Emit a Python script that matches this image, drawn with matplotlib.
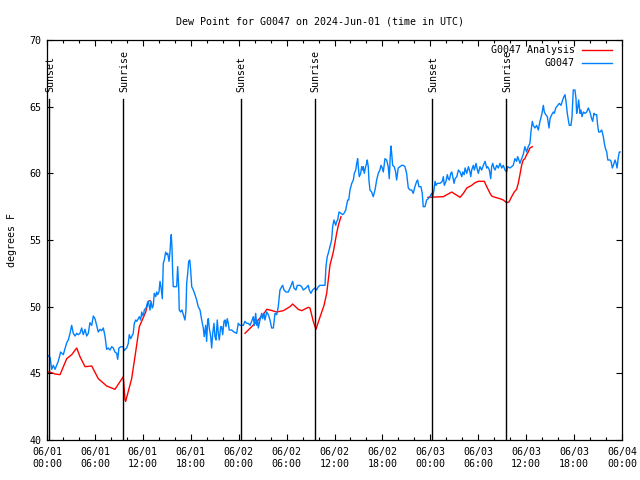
import numpy as np
import matplotlib
matplotlib.use('Agg')
import matplotlib.pyplot as plt

# hours since 06/01 00:00 UTC, dew point in deg F
obs_hours = [0.0, 0.38, 0.59, 0.79, 1.0, 1.41, 1.71, 2.04, 2.47, 2.67, 2.88, 3.09, 3.29, 3.51, 3.72, 3.92,
             4.13, 4.34, 4.54, 4.76, 4.97, 5.17, 5.38, 5.60, 5.80, 6.01, 6.22, 6.42, 6.64, 6.85, 7.05, 7.26,
             7.47, 7.67, 7.89, 8.10, 8.30, 8.51, 8.73, 8.85, 9.01, 9.26, 9.55, 9.64, 9.98, 10.18, 10.30, 10.48,
             10.60, 10.80, 10.93, 11.11, 11.23, 11.43, 11.56, 11.73, 11.86, 12.06, 12.18, 12.40, 12.56, 12.68,
             12.90, 13.02, 13.18, 13.31, 13.43, 13.61, 13.73, 13.86, 14.02, 14.15, 14.27, 14.44, 14.56, 14.69,
             14.86, 14.99, 15.11, 15.28, 15.40, 15.49, 15.56, 15.65, 15.74, 15.81, 16.03, 16.24, 16.36, 16.49,
             16.56, 16.74, 16.90, 17.07, 17.28, 17.40, 17.49, 17.62, 17.74, 17.87, 17.99, 18.12, 18.32, 18.53,
             18.74, 18.94, 19.16, 19.37, 19.57, 19.69, 19.87, 19.99, 20.12, 20.20, 20.32, 20.50, 20.62, 20.75,
             20.91, 21.03, 21.16, 21.32, 21.45, 21.57, 21.75, 21.87, 22.00, 22.16, 22.29, 22.41, 22.57, 22.70,
             22.82, 23.12, 23.41, 23.75, 23.95, 24.16, 24.38, 24.58, 24.79, 25.00, 25.20, 25.42, 25.63, 25.83,
             25.96, 26.13, 26.26, 26.38, 26.46, 26.67, 26.88, 27.00, 27.17, 27.29, 27.51, 27.71, 27.92, 28.13,
             28.34, 28.55, 28.76, 28.96, 29.17, 29.39, 29.51, 29.67, 29.92, 30.21, 30.51, 30.76, 30.92, 31.17,
             31.34, 31.68, 31.89, 32.09, 32.43, 32.72, 32.84, 33.05, 33.26, 33.55, 33.76, 33.97, 34.18, 34.59,
             34.81, 34.93, 35.09, 35.22, 35.43, 35.64, 35.77, 35.93, 36.15, 36.27, 36.40, 36.56, 36.81, 37.02,
             37.19, 37.40, 37.65, 37.78, 37.94, 38.16, 38.36, 38.48, 38.66, 38.78, 38.90, 38.98, 39.10, 39.28,
             39.40, 39.53, 39.60, 39.73, 39.90, 40.03, 40.10, 40.23, 40.31, 40.44, 40.65, 40.85, 41.07, 41.28,
             41.48, 41.69, 41.82, 41.98, 42.11, 42.32, 42.53, 42.73, 42.86, 42.98, 43.07, 43.16, 43.28, 43.48,
             43.66, 43.78, 43.98, 44.20, 44.41, 44.61, 44.82, 45.03, 45.24, 45.45, 45.66, 45.86, 46.07, 46.29,
             46.41, 46.57, 46.82, 46.99, 47.11, 47.33, 47.54, 47.74, 47.95, 48.17, 48.30, 48.46, 48.59, 48.71,
             48.88, 49.21, 49.50, 49.63, 49.75, 49.96, 50.13, 50.25, 50.38, 50.56, 50.68, 50.81, 50.97, 51.10,
             51.31, 51.52, 51.72, 51.94, 52.06, 52.23, 52.35, 52.56, 52.77, 52.97, 53.06, 53.18, 53.38, 53.51,
             53.72, 53.89, 54.01, 54.22, 54.43, 54.64, 54.85, 55.06, 55.18, 55.39, 55.56, 55.68, 55.81, 55.97,
             56.10, 56.31, 56.51, 56.72, 56.93, 57.13, 57.35, 57.56, 57.68, 57.97, 58.18, 58.38, 58.59, 58.80,
             58.93, 59.09, 59.22, 59.43, 59.63, 59.84, 60.06, 60.26, 60.47, 60.60, 60.77, 60.89, 61.10, 61.31,
             61.52, 61.73, 61.95, 62.15, 62.27, 62.45, 62.65, 62.86, 62.99, 63.20, 63.40, 63.53, 63.70, 63.95,
             64.15, 64.36, 64.57, 64.73, 64.86, 64.99, 65.15, 65.28, 65.40, 65.61, 65.74, 65.90, 66.11, 66.24,
             66.32, 66.45, 66.57, 66.74, 66.86, 66.99, 67.16, 67.37, 67.58, 67.78, 67.99, 68.20, 68.33, 68.49,
             68.62, 68.83, 68.95, 69.08, 69.25, 69.46, 69.66, 69.79, 69.91, 70.09, 70.22, 70.50, 70.63, 70.79,
             70.92, 71.13, 71.26, 71.38, 71.55, 71.67, 71.76]
obs_dewpt = [46.4, 46.2, 45.3, 45.6, 45.3, 45.9, 46.6, 46.4, 47.3, 47.5, 48.0, 48.6, 48.0, 47.8, 48.0, 47.9,
             48.0, 48.4, 47.9, 48.3, 47.8, 48.0, 48.8, 48.6, 49.3, 49.1, 48.6, 48.1, 48.3, 48.2, 48.4, 47.8,
             46.8, 46.9, 46.75, 47.0, 46.9, 46.6, 46.5, 46.05, 46.9, 47.0, 47.0, 46.7, 46.9, 47.25, 47.9, 47.6,
             47.75, 48.0, 48.75, 49.0, 48.9, 49.1, 49.25, 49.0, 49.6, 49.25, 49.75, 49.9, 50.25, 50.4,
             49.75, 50.4, 49.9, 50.1, 51.0, 50.75, 51.1, 50.9, 51.1, 51.9, 51.5, 50.6, 53.25, 53.5,
             54.1, 53.9, 54.0, 53.4, 54.1, 55.0, 55.4, 54.4, 52.5, 51.5, 51.5, 51.5, 53.0, 51.5,
             49.75, 49.6, 49.75, 49.4, 49.0, 49.75, 51.75, 52.5, 53.4, 53.5, 52.75, 51.5, 51.25, 50.9,
             50.5, 50.0, 49.75, 49.0, 48.4, 47.75, 48.6, 47.4, 49.0, 49.1, 48.4, 47.75, 46.9, 48.0,
             48.75, 47.75, 47.5, 49.0, 48.0, 47.5, 48.5, 48.5, 47.9, 48.9, 49.0, 48.5, 49.1, 48.75,
             48.25, 48.25, 48.1, 48.0, 48.75, 48.6, 48.6, 48.6, 48.9, 48.75, 48.75, 48.6, 48.9, 49.25,
             48.6, 49.5, 48.6, 49.0, 48.4, 49.0, 49.5, 49.1, 49.5, 49.0, 49.6, 49.4, 49.0, 48.4,
             48.4, 49.5, 49.4, 50.0, 51.25, 51.5, 51.6, 51.25, 51.1, 51.1, 51.5, 51.9, 51.4, 51.25,
             51.6, 51.6, 51.5, 51.25, 51.4, 51.6, 51.25, 51.0, 51.25, 51.4, 51.25, 51.5, 51.6, 51.6,
             51.6, 53.0, 53.75, 54.0, 54.5, 55.0, 56.0, 56.5, 56.1, 56.4, 56.5, 57.1, 57.0, 56.9,
             57.0, 57.25, 58.0, 58.0, 58.75, 59.25, 59.5, 60.0, 60.25, 60.75, 61.1, 60.5, 59.75, 60.0,
             60.5, 60.25, 60.5, 60.0, 60.5, 60.75, 61.0, 60.5, 59.5, 58.75, 58.6, 58.25, 58.75, 59.5,
             60.0, 60.25, 60.6, 60.4, 60.1, 61.1, 61.0, 60.5, 59.6, 61.25, 62.05, 61.5, 60.6, 60.5,
             60.1, 59.5, 60.4, 60.5, 60.6, 60.6, 60.5, 60.0, 58.9, 58.75, 58.75, 58.5, 59.0, 59.4,
             59.5, 59.0, 59.0, 58.5, 57.5, 57.5, 58.0, 58.1, 58.25, 58.5, 58.25, 58.75, 59.4, 59.1,
             59.25, 59.25, 59.4, 59.75, 59.1, 59.4, 59.9, 59.6, 59.5, 60.0, 60.1, 59.75, 59.25, 59.6,
             59.75, 60.25, 60.1, 59.75, 60.1, 59.9, 60.4, 60.0, 60.5, 60.1, 59.75, 60.25, 60.6, 60.25,
             60.75, 60.25, 60.0, 60.5, 60.25, 60.6, 60.9, 60.4, 60.5, 60.25, 59.6, 60.5, 60.75, 60.4,
             60.25, 60.6, 60.4, 60.75, 60.4, 60.6, 60.25, 60.1, 60.5, 60.4, 60.5, 60.6, 61.1, 60.9,
             61.25, 61.0, 60.75, 61.1, 61.4, 62.0, 61.6, 62.0, 62.25, 63.1, 63.9, 63.6, 63.4, 63.6,
             63.25, 63.9, 64.4, 65.1, 64.6, 64.4, 64.25, 63.4, 64.1, 64.4, 64.6, 64.5, 64.9, 65.1,
             65.25, 65.1, 65.5, 65.75, 65.9, 65.4, 64.5, 64.0, 63.6, 63.6, 64.25, 66.25, 66.25, 65.6,
             64.5, 64.9, 65.5, 64.5, 64.75, 64.25, 64.6, 64.5, 64.6, 64.9, 64.6, 64.1, 63.9, 64.5,
             64.4, 64.4, 63.6, 63.1, 63.1, 63.25, 62.75, 62.25, 61.9, 61.6, 61.0, 61.0, 60.9, 60.4,
             60.6, 61.0, 60.75, 60.4, 61.25, 61.6, 61.6]

# analysis series, NaN marks the gaps
ana_hours = [0.0, 0.38, 1.0, 1.63, 2.47, 3.09, 3.72, 4.13, 4.76, 5.6, 6.42, 7.47, 8.51, 9.55, 9.77, 9.85,
             10.6, 11.14, 11.56, 12.36, 12.68, 12.90, 13.0,
             24.79, 26.05, 26.46, 27.30, 27.51, 27.92, 28.76, 29.59, 30.43, 30.76, 31.47, 31.89, 32.72, 32.93,
             33.34, 33.68, 34.06, 34.69, 35.02, 35.27, 35.43, 35.85, 36.27, 36.48, 36.81, 37.0,
             47.7, 49.63, 50.68, 51.72, 52.14, 52.56, 53.18, 53.60, 54.01, 54.76, 55.06, 55.48, 55.68, 56.10,
             56.72, 57.13, 57.56, 57.85, 58.18, 58.51, 58.80, 59.01, 59.22, 59.43, 59.63, 59.84, 60.06, 60.26,
             60.47, 60.77]
ana_dewpt = [45.1, 45.1, 44.95, 44.9, 46.1, 46.4, 46.9, 46.25, 45.5, 45.55, 44.6, 44.05, 43.8, 44.75, 43.0, 42.9,
             44.6, 46.75, 48.5, 49.6, 50.4, 50.45, np.nan,
             48.0, 48.75, 49.0, 49.6, 49.8, 49.75, 49.6, 49.7, 50.0, 50.2, 49.8, 49.7, 49.95, 49.9,
             48.9, 48.3, 49.0, 50.1, 51.0, 52.25, 53.1, 54.1, 55.5, 56.1, 56.75, np.nan,
             58.2, 58.25, 58.6, 58.2, 58.5, 58.9, 59.1, 59.3, 59.4, 59.4, 59.0, 58.5, 58.3, 58.2,
             58.1, 58.0, 57.8, 57.85, 58.25, 58.6, 58.8, 59.25, 59.9, 60.6, 61.0, 61.1, 61.4, 61.6,
             61.9, 62.0]

sun_hours = [0.25, 9.52, 24.25, 33.5, 48.25, 57.5]
sun_names = ['Sunset', 'Sunrise', 'Sunset', 'Sunrise', 'Sunset', 'Sunrise']

tick_hours = list(range(0, 73, 6))
tick_labels = ['06/01\n00:00', '06/01\n06:00', '06/01\n12:00', '06/01\n18:00',
               '06/02\n00:00', '06/02\n06:00', '06/02\n12:00', '06/02\n18:00',
               '06/03\n00:00', '06/03\n06:00', '06/03\n12:00', '06/03\n18:00',
               '06/04\n00:00']

plt.rcParams['font.family'] = 'DejaVu Sans Mono'
plt.rcParams['font.size'] = 7.2

fig = plt.figure(figsize=(6.4, 4.8), dpi=100)
ax = fig.add_axes([47 / 640, 40 / 480, 575 / 640, 400 / 480])

ax.plot(ana_hours, ana_dewpt, color='#ff0000', lw=1)
ax.plot(obs_hours, obs_dewpt, color='#0080ff', lw=1)

for h, name in zip(sun_hours, sun_names):
    ax.plot([h, h], [40, 65.6], color='black', lw=1)
    ax.text(h + 0.15, 66.1, name, rotation=90, ha='center', va='bottom')

ax.set_xlim(0, 72)
ax.set_ylim(40, 70)
ax.set_xticks(tick_hours)
ax.set_xticklabels(tick_labels)
ax.set_xticks(np.arange(0, 73, 2), minor=True)
ax.set_yticks(range(40, 71, 5))
ax.tick_params(which='both', direction='in', top=True, right=True)
ax.tick_params(which='major', length=4, width=0.8, pad=5)
ax.tick_params(which='minor', length=2.2, width=0.8)
ax.tick_params(axis='y', pad=4)
for s in ax.spines.values():
    s.set_linewidth(0.9)

ax.set_ylabel('degrees F', labelpad=9)
fig.suptitle('Dew Point for G0047 on 2024-Jun-01 (time in UTC)', y=0.966, fontsize=7.2)

# key in the top right corner
ax.text(0.918, 0.975, 'G0047 Analysis', ha='right', va='center', transform=ax.transAxes)
ax.plot([0.930, 0.983], [0.975, 0.975], color='#ff0000', lw=1, transform=ax.transAxes)
ax.text(0.918, 0.9425, 'G0047', ha='right', va='center', transform=ax.transAxes)
ax.plot([0.930, 0.983], [0.9425, 0.9425], color='#0080ff', lw=1, transform=ax.transAxes)

fig.savefig('out.png', dpi=100)
